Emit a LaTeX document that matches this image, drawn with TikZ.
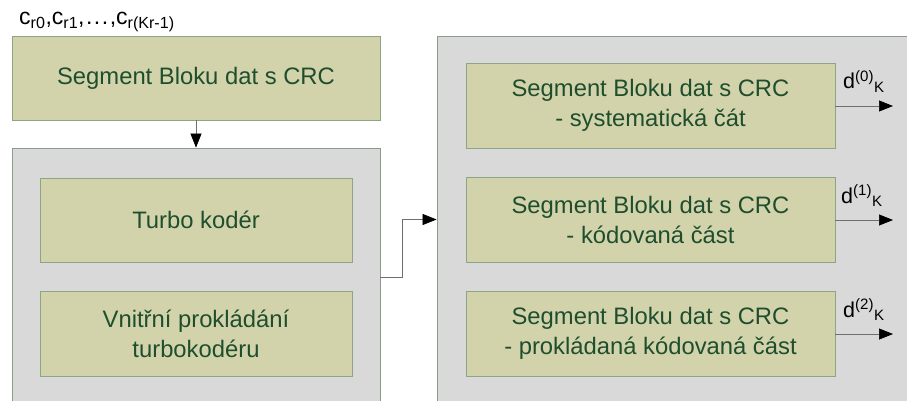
\documentclass[tikz,border=0pt]{standalone}
\usepackage{fontspec}
\setmainfont{Liberation Sans}
\usetikzlibrary{arrows.meta,calc}
\definecolor{khaki}{RGB}{211,211,171}
\definecolor{khakiedge}{RGB}{140,165,135}
\definecolor{graybox}{RGB}{217,217,217}
\definecolor{grayedge}{RGB}{140,155,140}
\definecolor{txtgreen}{RGB}{30,78,46}
\definecolor{lineg}{RGB}{110,110,110}
\tikzset{
  x=1pt,y=-1pt,
  inner/.style={draw=khakiedge,fill=khaki,line width=0.8pt,text=txtgreen,align=center,
    font=\fontsize{23.8}{30}\selectfont,inner sep=0pt},
  outer/.style={draw=grayedge,fill=graybox,line width=0.8pt,inner sep=0pt},
  conn/.style={draw=lineg,line width=0.7pt,-{Triangle[length=14pt,width=11pt,fill=black,color=black]}},
  lbl/.style={inner sep=0pt,text=black}
}
\begin{document}
\begin{tikzpicture}
\clip (0,0) rectangle (907,401);
\fill[white] (0,0) rectangle (907,401);
% top box
\node[inner,minimum width=368pt,minimum height=84pt] (top) at (196,78) {Segment Bloku dat s CRC};
% left gray container
\node[outer,minimum width=368pt,minimum height=272pt] (left) at (196,284) {};
\node[inner,minimum width=312pt,minimum height=84pt] (turbo) at (196,220) {Turbo kodér};
\node[inner,minimum width=312pt,minimum height=85pt] (vnit) at (196,333.5) {Vnitřní prokládání\\turbokodéru};
% right gray container
\node[outer,minimum width=490pt,minimum height=380pt] (right) at (682,226) {};
\node[inner,minimum width=369pt,minimum height=85pt] (s0) at (650.5,105.5) {Segment Bloku dat s CRC\\- systematická čát};
\node[inner,minimum width=369pt,minimum height=85pt] (s1) at (650.5,219.5) {Segment Bloku dat s CRC\\- kódovaná část};
\node[inner,minimum width=369pt,minimum height=85pt] (s2) at (650.5,333.5) {Segment Bloku dat s CRC\\- prokládaná kódovaná část};
% top label
\node[lbl,anchor=base west,font=\fontsize{23}{28}\selectfont] (clbl) at (19,25) {c\textsubscript{r0},c\textsubscript{r1},\kern1.5pt.\kern1.5pt.\kern1.5pt.\kern1.5pt,c\textsubscript{r(Kr-1)}};
% connectors
\draw[conn] (top.south) -- (left.north);
\coordinate (exitpt) at (380,277);
\draw[conn] (exitpt) -- (402,277) |- (right.west |- s1.center);
\coordinate (o0) at (893,106);
\coordinate (o1) at (893,220);
\coordinate (o2) at (893,334);
\draw[conn] (s0.east |- o0) -- (o0);
\draw[conn] (s1.east |- o1) -- (o1);
\draw[conn] (s2.east |- o2) -- (o2);
\node[lbl,anchor=base west,font=\fontsize{21.5}{26}\selectfont] (d0) at (843,89) {d\textsuperscript{(0)}\textsubscript{K}};
\node[lbl,anchor=base west,font=\fontsize{21.5}{26}\selectfont] (d1) at (841,203) {d\textsuperscript{(1)}\textsubscript{K}};
\node[lbl,anchor=base west,font=\fontsize{21.5}{26}\selectfont] (d2) at (843,317) {d\textsuperscript{(2)}\textsubscript{K}};
\end{tikzpicture}
\end{document}
